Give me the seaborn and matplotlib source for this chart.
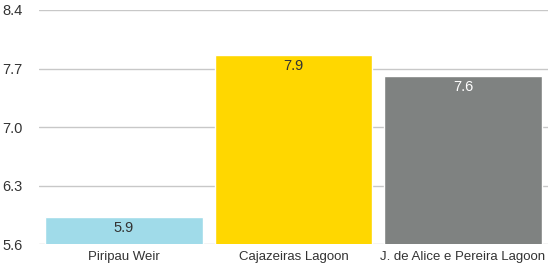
import numpy as np
import pandas as pd
import matplotlib
matplotlib.use('Agg')
import matplotlib.pyplot as plt
import seaborn as sns

sites = ['Piripau Weir', 'Cajazeiras Lagoon', 'J. de Alice e Pereira Lagoon']
values = [5.92, 7.86, 7.61]
bar_colors = ['#a0dbe9', '#ffd700', '#7f8281']
label_colors = ['#333333', '#333333', '#ffffff']
yticks = [5.6, 6.3, 7.0, 7.7, 8.4]

df = pd.DataFrame({'site': sites, 'value': values})

sns.set_style('white')
plt.rcParams['font.family'] = ['Liberation Sans', 'DejaVu Sans']

fig = plt.figure(figsize=(5.5, 2.7), dpi=100)
ax = fig.add_axes([0.071, 0.096, 0.925, 0.867])

ax.set_axisbelow(True)
for t in yticks:
    ax.axhline(t, color='#c8c8c8', lw=1, zorder=0)

sns.barplot(data=df, x='site', y='value', hue='site', palette=bar_colors,
            legend=False, width=0.93, saturation=1, ax=ax, zorder=2)

# value labels inside bars, just below the top
for p, v, c in zip(ax.patches, values, label_colors):
    ax.annotate(f'{v:.1f}', (p.get_x() + p.get_width() / 2, p.get_height()),
                xytext=(0, -8), textcoords='offset points',
                ha='center', va='center', fontsize=10.5, color=c, zorder=3)

ax.set_ylim(5.6, 8.4)
ax.set_yticks(yticks)
ax.set_yticklabels([f'{t:.1f}' for t in yticks])
ax.set_xlim(-0.5, 2.5)
ax.set_xlabel('')
ax.set_ylabel('')
for s in ax.spines.values():
    s.set_visible(False)
ax.tick_params(axis='y', length=0, pad=12, labelsize=10.5, labelcolor='#333333')
ax.tick_params(axis='x', length=0, pad=5, labelsize=9.5, labelcolor='#333333')

fig.savefig('out.png', dpi=100)
